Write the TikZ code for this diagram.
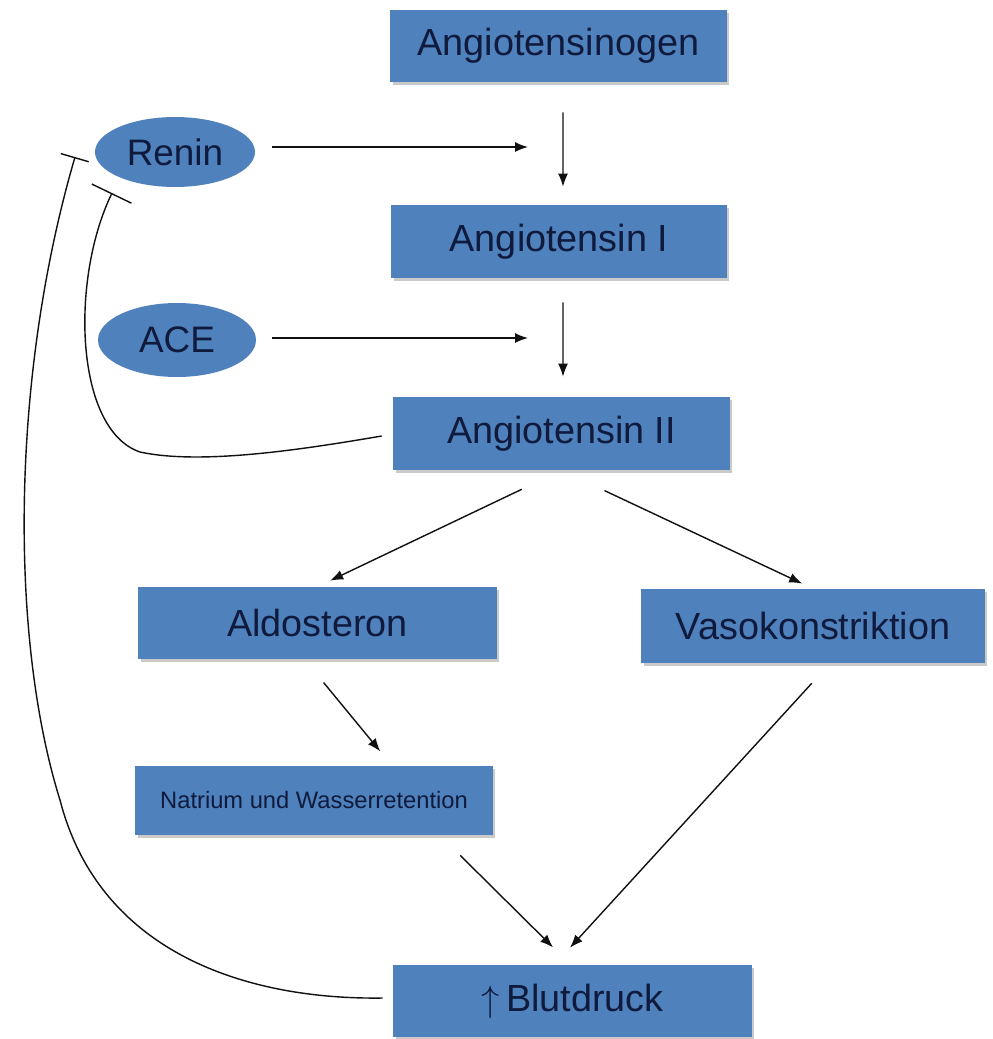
\documentclass[tikz,border=0pt]{standalone}
\usepackage{fontspec}
\setmainfont{Liberation Sans}
\usetikzlibrary{calc,arrows.meta,shapes.geometric,shadows}
\definecolor{boxblue}{HTML}{4F81BD}
\definecolor{ink}{HTML}{0F1A3C}
\definecolor{wire}{HTML}{111111}
\tikzset{
  box/.style={rectangle, fill=boxblue, text=ink, inner sep=0pt,
    font=\fontsize{21.5}{24}\selectfont,
    drop shadow={shadow xshift=0.05cm, shadow yshift=-0.05cm, opacity=0.35, fill=black!60}},
  boxsm/.style={box, font=\fontsize{13.5}{16}\selectfont},
  enz/.style={ellipse, fill=boxblue, text=ink, inner sep=0pt, font=\fontsize{21}{24}\selectfont},
  arr/.style={draw=wire, line width=0.8pt, -{Latex[length=0.26cm,width=0.2cm]}},
  inh/.style={draw=wire, line width=0.8pt},
}

\begin{document}
\begin{tikzpicture}[x=0.02cm, y=-0.02cm]
  \useasboundingbox (0,0) rectangle (992,1039);
  % cascade
  \node[box, minimum width=6.74cm, minimum height=1.44cm] (ag) at (558.5,46) {Angiotensinogen};
  \node[box, minimum width=6.72cm, minimum height=1.46cm] (a1) at (559,241.5) {Angiotensin I};
  \node[box, minimum width=6.74cm, minimum height=1.46cm] (a2) at (561.5,433.5) {Angiotensin II};
  \node[box, minimum width=7.18cm, minimum height=1.44cm] (ald) at (317.5,623) {Aldosteron};
  \node[box, minimum width=6.88cm, minimum height=1.48cm] (vaso) at (813,626) {Vasokonstriktion};
  \node[boxsm, minimum width=7.16cm, minimum height=1.38cm] (nat) at (314,800.5) {Natrium und Wasserretention};
  \node[box, minimum width=7.18cm, minimum height=1.44cm] (blut) at (572.5,1001) {$\uparrow$\,Blutdruck};
  % enzymes
  \node[enz, minimum width=3.2cm, minimum height=1.4cm] (renin) at (175,152) {Renin};
  \node[enz, minimum width=3.16cm, minimum height=1.48cm] (ace) at (177,340) {ACE};
  \coordinate (rtip) at (528,147);
  \coordinate (atip) at (528,338);
  \coordinate (rin) at (112,193);
  \coordinate (rout) at (75,157);

  \draw[arr, shorten <=0.6cm, shorten >=0.36cm] ($(ag.south)+(4.5,0)$) -- ($(a1.north)+(4,0)$);
  \draw[arr, shorten <=0.48cm, shorten >=0.4cm] ($(a1.south)+(4,0)$) -- ($(a2.north)+(1.5,0)$);
  \draw[arr, shorten <=0.34cm] (renin.east |- rtip) -- (rtip);
  \draw[arr, shorten <=0.32cm] (ace.east |- atip) -- (atip);
  \draw[arr, shorten <=0.88cm, shorten >=0.28cm] (a2.south) -- (ald.north);
  \draw[arr, shorten <=0.95cm, shorten >=0.24cm] (a2.south) -- (vaso.north);
  \draw[arr, shorten <=0.6cm, shorten >=0.37cm] ($(ald.south)+(-13,0)$) -- ($(nat.north)+(78,0)$);
  \draw[arr, shorten <=0.57cm, shorten >=0.49cm] ($(nat.south)+(126,0)$) -- ($(blut.north)+(-2,0)$);
  \draw[arr, shorten <=0.54cm, shorten >=0.46cm] ($(vaso.south)+(17,0)$) -- ($(blut.north)+(-18,0)$);

  % feedback
  \draw[inh, -{Bar[width=0.88cm]}] ([xshift=-0.22cm,yshift=-0.05cm]a2.west)
    .. controls (300,450) and (200,465) .. (140,452)
    .. controls (75,430) and (70,280) .. (rin);
  \draw[inh, -{Bar[width=0.58cm]}] ([xshift=-0.2cm,yshift=0.06cm]blut.west)
    .. controls (250,1000) and (100,955) .. (60,800)
    .. controls (10,640) and (10,380) .. (rout);
\end{tikzpicture}
\end{document}
